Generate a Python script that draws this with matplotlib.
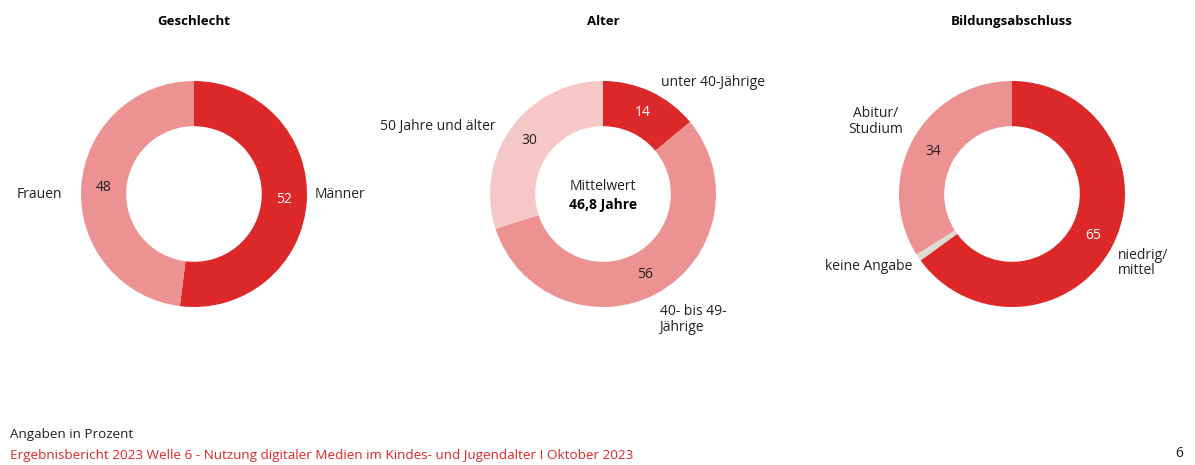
import matplotlib.pyplot as plt

plt.rcParams['font.family'] = ['Open Sans', 'DejaVu Sans']

DARK = '#dc2829'
MID = '#ec9292'
LIGHT = '#f5c8c7'
GREY = '#dcdbd4'

# data
geschlecht_labels = ['Männer', 'Frauen']
geschlecht_values = [52, 48]
alter_labels = ['unter 40-Jährige', '40- bis 49-\nJährige', '50 Jahre und älter']
alter_values = [14, 56, 30]
bildung_labels = ['niedrig/\nmittel', 'keine Angabe', 'Abitur/\nStudium']
bildung_values = [65, 1, 34]
titles = ['Geschlecht', 'Alter', 'Bildungsabschluss']

W, H = 1195, 465
fig = plt.figure(figsize=(W / 100, H / 100), dpi=100)

R = 113


def donut(cx, cy, values, colors):
    ax = fig.add_axes([(cx - R) / W, (H - cy - R) / H, 2 * R / W, 2 * R / H])
    ax.pie(values, colors=colors, startangle=90, counterclock=False, radius=1,
           wedgeprops=dict(width=0.4, linewidth=0))
    ax.set_xlim(-1, 1)
    ax.set_ylim(-1, 1)
    ax.set_aspect('equal')
    ax.axis('off')
    return ax


def txt(ax, x, y, s, ha='center', color='#222222', **kw):
    ax.text(x, y, s, ha=ha, va='center', fontsize=10, color=color, clip_on=False, **kw)


# Geschlecht
ax1 = donut(194, 194, geschlecht_values, [DARK, MID])
txt(ax1, 1.07, 0.0, geschlecht_labels[0], ha='left')
txt(ax1, -1.17, 0.0, geschlecht_labels[1], ha='right')
txt(ax1, 0.80, -0.05, str(geschlecht_values[0]), color='white')
txt(ax1, -0.80, 0.06, str(geschlecht_values[1]))

# Alter
ax2 = donut(603, 194, alter_values, [DARK, MID, LIGHT])
txt(ax2, 0.51, 0.99, alter_labels[0], ha='left')
txt(ax2, 0.50, -1.11, alter_labels[1], ha='left', linespacing=1.05)
txt(ax2, -0.95, 0.60, alter_labels[2], ha='right')
txt(ax2, 0.35, 0.72, str(alter_values[0]), color='white')
txt(ax2, 0.37, -0.71, str(alter_values[1]))
txt(ax2, -0.65, 0.47, str(alter_values[2]))
txt(ax2, 0, 0.07, 'Mittelwert')
txt(ax2, 0, -0.10, '46,8 Jahre', fontweight='bold', color='black')

# Bildungsabschluss
ax3 = donut(1012, 194, bildung_values, [DARK, GREY, MID])
txt(ax3, 0.94, -0.61, bildung_labels[0], ha='left', linespacing=1.05)
txt(ax3, -0.88, -0.64, bildung_labels[1], ha='right')
txt(ax3, -0.96, 0.64, bildung_labels[2], ha='right', linespacing=1.05, multialignment='center')
txt(ax3, 0.72, -0.37, str(bildung_values[0]), color='white')
txt(ax3, -0.70, 0.38, str(bildung_values[2]))

for ax, t in zip([ax1, ax2, ax3], titles):
    ax.text(0, 1.53, t, ha='center', va='center', fontsize=9.5, fontweight='bold',
            color='black', clip_on=False)

fig.text(10 / W, 1 - 434 / H, 'Angaben in Prozent', fontsize=9.7, va='center', color='#222222')
fig.text(10 / W, 1 - 455 / H,
         'Ergebnisbericht 2023 Welle 6 - Nutzung digitaler Medien im Kindes- und Jugendalter I Oktober 2023',
         fontsize=9.7, va='center', color=DARK)
fig.text(1183 / W, 1 - 453 / H, '6', fontsize=10, va='center', ha='right', color='#222222')

fig.savefig('out.png', dpi=100)
